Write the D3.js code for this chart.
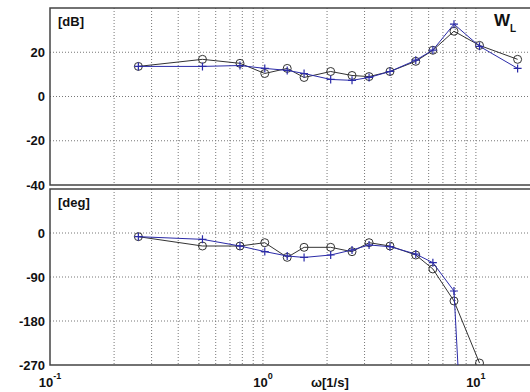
<!DOCTYPE html>
<html>
<head>
<meta charset="utf-8">
<script src="https://cdn.jsdelivr.net/npm/d3@7"></script>
<style>
  body { margin: 0; background: #fff; }
  text { font-family: "Liberation Sans", Arial, sans-serif; fill: #111; }
</style>
</head>
<body>
<div id="chart"></div>
<script>
const width = 530;
const height = 392;

// frequencies [1/s]
const freq = [0.26, 0.52, 0.78, 1.02, 1.30, 1.56, 2.08, 2.62, 3.15, 3.95, 5.22, 6.28, 7.89, 10.4, 15.7];

// magnitude [dB]
const magMeasured = [13.6, 16.8, 15.0, 10.4, 12.7, 8.6, 11.3, 9.5, 9.0, 11.3, 15.9, 20.9, 29.5, 23.1, 16.8];
const magModel = [13.6, 13.6, 14.0, 12.7, 11.8, 10.4, 7.7, 7.3, 8.6, 11.3, 16.4, 21.0, 32.7, 22.7, 12.7];

// phase [deg] (first 14 frequencies)
const phaseMeasured = [-7.5, -26.6, -26.6, -19.8, -49.8, -29.3, -29.3, -38.2, -19.8, -26.6, -45, -73.6, -139, -266];
const phaseModel = [-7.5, -13, -26.6, -38, -47, -50, -45, -34.8, -24.5, -28, -43, -60.7, -118.6, -1100];

const magTicks = [-40, -20, 0, 20];
const phaseTicks = [-270, -180, -90, 0];
const xTickExp = [-1, 0, 1];

const svg = d3.select("#chart")
  .append("svg")
  .attr("width", width)
  .attr("height", height);

const x = d3.scaleLog()
  .domain([0.1, 20])
  .range([50, 540]);

const yMag = d3.scaleLinear().domain([-40, 40]).range([185, 8]);
const yPhase = d3.scaleLinear().domain([-270, 90]).range([365, 189]);

// minor grid positions 0.2..0.9, 1..9, 10..20
const gridX = [];
[0.1, 1, 10].forEach(dec => {
  for (let k = 1; k <= 9; k++) {
    const v = dec * k;
    if (v > 0.1 && v <= 20) gridX.push(v);
  }
});

const panels = [
  { y: yMag, ticks: magTicks, label: "[dB]", series: [magMeasured, magModel], id: "mag" },
  { y: yPhase, ticks: phaseTicks, label: "[deg]", series: [phaseMeasured, phaseModel], id: "phase" }
];

panels.forEach(p => {
  const [y0, y1] = p.y.range();
  const g = svg.append("g");

  svg.append("clipPath").attr("id", "clip-" + p.id)
    .append("rect")
    .attr("x", 50).attr("y", y1)
    .attr("width", 490).attr("height", y0 - y1);

  // grid
  g.selectAll(".vgrid")
    .data(gridX)
    .enter()
    .append("line")
    .attr("x1", d => x(d)).attr("x2", d => x(d))
    .attr("y1", y1).attr("y2", y0)
    .attr("stroke", "#777")
    .attr("stroke-width", 1)
    .attr("stroke-dasharray", "1,2");

  g.selectAll(".hgrid")
    .data(p.ticks.slice(1))
    .enter()
    .append("line")
    .attr("x1", 50).attr("x2", 540)
    .attr("y1", d => p.y(d)).attr("y2", d => p.y(d))
    .attr("stroke", "#777")
    .attr("stroke-width", 1)
    .attr("stroke-dasharray", "1,2");

  // frame
  g.append("path")
    .attr("d", `M540,${y1}H50V${y0}H540`)
    .attr("fill", "none")
    .attr("stroke", "#444")
    .attr("stroke-width", 1.5);

  // y tick labels
  g.selectAll(".ytick")
    .data(p.ticks)
    .enter()
    .append("text")
    .attr("x", 45)
    .attr("y", d => p.y(d))
    .attr("dy", "0.36em")
    .attr("text-anchor", "end")
    .style("font-size", "13px")
    .style("font-weight", "bold")
    .text(d => d);

  g.append("text")
    .attr("x", 58)
    .attr("y", y1 + 18)
    .style("font-size", "13px")
    .style("font-weight", "bold")
    .text(p.label);

  const plot = g.append("g").attr("clip-path", `url(#clip-${p.id})`);
  const colors = ["#333", "#2b2ba8"];

  p.series.forEach((vals, i) => {
    const pts = vals.map((v, j) => [freq[j], v]);
    const line = d3.line().x(d => x(d[0])).y(d => p.y(d[1]));

    plot.append("path")
      .datum(pts)
      .attr("d", line)
      .attr("fill", "none")
      .attr("stroke", colors[i])
      .attr("stroke-width", 1);

    if (i === 0) {
      plot.selectAll(".circ" + i)
        .data(pts)
        .enter()
        .append("circle")
        .attr("cx", d => x(d[0]))
        .attr("cy", d => p.y(d[1]))
        .attr("r", 4)
        .attr("fill", "none")
        .attr("stroke", colors[i])
        .attr("stroke-width", 1);
    } else {
      plot.selectAll(".plus" + i)
        .data(pts)
        .enter()
        .append("path")
        .attr("d", d => {
          const cx = x(d[0]), cy = p.y(d[1]);
          return `M${cx - 4},${cy}H${cx + 4}M${cx},${cy - 4}V${cy + 4}`;
        })
        .attr("stroke", colors[i])
        .attr("stroke-width", 1.2);
    }
  });
});

// x tick labels
const xt = svg.selectAll(".xtick")
  .data(xTickExp)
  .enter()
  .append("text")
  .attr("x", d => x(Math.pow(10, d)))
  .attr("y", 387)
  .attr("text-anchor", "middle")
  .style("font-size", "13px")
  .style("font-weight", "bold");
xt.append("tspan").text("10");
xt.append("tspan")
  .attr("dy", -8)
  .style("font-size", "9px")
  .text(d => d);

svg.append("text")
  .attr("x", 311)
  .attr("y", 387)
  .style("font-size", "13px")
  .style("font-weight", "bold")
  .text("ω[1/s]");

// W_L label
const wl = svg.append("text")
  .attr("x", 494)
  .attr("y", 26)
  .style("font-size", "17px")
  .style("font-weight", "bold")
  .text("W");
wl.append("tspan")
  .attr("dy", 6)
  .style("font-size", "10px")
  .text("L");
</script>
</body>
</html>
